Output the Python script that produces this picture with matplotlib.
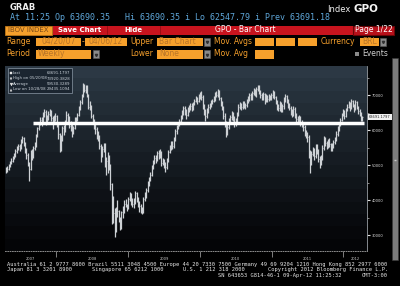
import numpy as np
import pandas as pd
import matplotlib
matplotlib.use('Agg')
import matplotlib.pyplot as plt
from matplotlib.patches import Rectangle

# IBOV weekly bars, 04/20/07 - 04/06/12, in thousands of points
week_start = '2007-04-20'
closes = [
    # 2007
    48.5, 48.9, 49.7, 50.6, 51.2, 51.9, 52.8, 53.9, 54.6, 55.4, 55.0, 56.8, 57.6, 55.9, 54.2, 52.8,
    50.5, 48.9, 53.7, 52.3, 54.8, 55.6, 58.4, 60.5, 61.8, 63.0, 62.1, 64.5, 65.2, 62.8, 63.5, 64.6,
    65.4, 63.3, 62.2, 63.6, 63.9,
    # 2008
    61.4, 58.9, 55.6, 57.8, 60.6, 59.9, 62.6, 64.2, 63.5, 61.2, 61.8, 59.6, 60.5, 63.1, 62.9, 64.4,
    66.3, 68.1, 69.6, 72.4, 71.5, 72.6, 70.1, 66.5, 66.9, 64.0, 62.5, 61.8, 60.4, 58.8, 58.2, 55.5,
    53.1, 54.6, 55.7, 50.5, 51.2, 52.4, 49.8, 44.5, 35.6, 36.4, 31.5, 37.3, 36.9, 34.8, 32.0, 36.6,
    36.7, 39.0, 38.6, 37.6,
    # 2009
    40.2, 41.5, 39.4, 38.8, 39.3, 41.9, 40.1, 39.0, 38.2, 37.3, 36.8, 40.3, 41.4, 42.8, 44.6, 45.9,
    47.2, 49.5, 50.8, 52.1, 51.6, 53.4, 52.7, 53.6, 50.6, 51.2, 50.1, 49.3, 51.5, 53.8, 54.9, 56.2,
    55.3, 57.4, 59.6, 60.9, 61.8, 62.5, 63.7, 64.9, 66.2, 65.1, 64.3, 65.8, 66.4, 67.0, 66.1, 67.5,
    68.4, 69.1, 68.2, 69.6,
    # 2010
    70.2, 69.4, 66.8, 65.4, 64.1, 65.6, 66.6, 67.1, 68.0, 68.4, 69.0, 70.4, 70.1, 70.8, 69.2, 67.8,
    66.5, 64.1, 62.2, 59.8, 61.0, 62.9, 63.6, 64.8, 63.3, 61.8, 62.9, 64.6, 66.7, 67.3, 66.5, 67.8,
    66.9, 67.1, 68.3, 68.9, 70.0, 69.2, 70.6, 71.3, 70.2, 71.8, 72.4, 71.0, 70.1, 69.3, 70.4, 68.3,
    69.6, 68.8, 69.8, 69.3,
    # 2011
    69.9, 70.8, 69.4, 68.1, 66.9, 66.2, 67.5, 65.9, 66.8, 68.7, 69.6, 68.5, 67.0, 66.3, 65.2, 64.5,
    66.0, 64.1, 63.2, 62.7, 63.5, 62.0, 61.8, 60.9, 59.4, 58.6, 57.9, 53.4, 50.9, 53.2, 54.4, 52.6,
    55.3, 54.0, 51.8, 50.6, 52.1, 54.9, 57.5, 56.2, 55.4, 56.8, 55.9, 54.8, 55.7, 56.5, 57.2, 58.9,
    60.4, 61.7, 62.9, 64.3,
    # 2012
    65.4, 63.9, 65.8, 66.7, 67.6, 66.3, 68.2, 67.0, 66.1, 67.9, 66.4, 65.3, 64.8, 62.9, 63.7,
]
highs = [
    49.3, 49.6, 50.3, 51.2, 52.0, 52.6, 53.5, 54.5, 55.3, 56.1, 56.0, 57.3, 58.3, 58.0, 56.6, 54.8,
    53.4, 51.0, 54.2, 54.5, 55.3, 56.5, 58.9, 61.0, 62.4, 63.8, 63.6, 65.1, 66.0, 65.6, 64.2, 65.3,
    66.1, 65.8, 64.0, 64.4, 64.8,
    64.3, 61.8, 59.2, 58.5, 61.2, 61.5, 63.0, 65.3, 64.8, 64.0, 62.5, 62.2, 61.2, 63.6, 63.8, 64.9,
    66.8, 68.6, 70.4, 73.5, 73.1, 72.9, 72.8, 70.3, 68.4, 67.2, 64.5, 63.2, 62.4, 61.0, 59.6, 58.6,
    56.0, 55.3, 56.4, 56.2, 52.3, 53.6, 53.0, 50.4, 45.0, 41.2, 37.8, 37.9, 40.0, 37.2, 35.1, 37.0,
    38.2, 40.1, 40.2, 38.9,
    40.9, 42.4, 42.0, 40.6, 40.5, 42.5, 42.3, 41.0, 39.6, 38.9, 38.0, 40.9, 42.2, 43.5, 45.3, 46.6,
    47.9, 50.1, 51.5, 53.0, 52.8, 54.0, 54.3, 54.5, 54.1, 52.0, 51.8, 50.9, 52.0, 54.4, 55.6, 56.9,
    56.8, 58.0, 60.2, 61.5, 62.4, 63.1, 64.3, 65.6, 66.9, 67.0, 66.0, 66.5, 67.1, 67.7, 67.6, 68.1,
    69.0, 69.7, 69.5, 70.3,
    71.0, 71.2, 69.9, 67.5, 65.9, 66.2, 67.3, 67.8, 68.6, 69.0, 69.7, 71.0, 71.1, 71.6, 71.4, 69.5,
    68.3, 67.0, 64.8, 62.6, 61.7, 63.5, 64.3, 65.5, 65.2, 63.9, 63.5, 65.2, 67.3, 67.9, 67.6, 68.4,
    68.3, 67.7, 68.9, 69.6, 70.6, 70.5, 71.2, 71.9, 71.8, 72.4, 73.0, 72.8, 71.5, 70.6, 71.0, 70.7,
    70.2, 69.9, 70.4, 70.1,
    70.5, 71.4, 71.1, 69.8, 68.6, 67.5, 68.2, 68.0, 67.5, 69.3, 70.2, 70.0, 69.0, 67.6, 66.9, 65.9,
    66.8, 66.5, 64.8, 63.9, 64.2, 64.1, 62.8, 62.4, 61.4, 60.1, 59.3, 58.5, 54.3, 53.9, 55.2, 55.0,
    56.0, 56.1, 54.6, 52.5, 52.9, 55.6, 58.2, 58.1, 56.9, 57.5, 57.6, 56.3, 56.4, 57.2, 58.0, 59.6,
    61.1, 62.4, 63.5, 65.0,
    66.1, 65.8, 66.4, 67.3, 68.3, 68.0, 68.9, 68.7, 67.5, 68.5, 68.2, 66.9, 65.9, 65.1, 64.1,
]
lows = [
    47.6, 47.9, 48.6, 49.3, 50.2, 50.8, 51.6, 52.4, 53.5, 54.2, 54.1, 54.5, 56.2, 55.3, 53.5, 51.6,
    49.7, 45.3, 48.5, 51.4, 51.9, 54.2, 55.2, 58.0, 60.1, 61.4, 61.2, 61.6, 63.8, 61.5, 61.9, 62.8,
    64.0, 62.6, 60.4, 61.8, 62.7,
    60.8, 57.5, 53.6, 53.9, 57.0, 58.6, 59.4, 61.9, 62.3, 60.7, 59.8, 58.0, 58.9, 60.2, 61.8, 62.5,
    63.9, 65.8, 67.5, 69.3, 70.8, 70.6, 69.5, 65.9, 65.8, 63.4, 61.6, 60.3, 58.9, 57.3, 57.0, 54.6,
    50.8, 52.2, 53.8, 49.4, 47.2, 47.6, 48.6, 42.8, 33.2, 33.5, 29.4, 30.8, 35.2, 33.8, 31.4, 31.8,
    34.8, 36.4, 37.9, 37.0,
    37.4, 39.6, 38.7, 37.9, 37.6, 38.8, 39.4, 38.1, 36.5, 36.2, 35.9, 36.3, 39.6, 40.7, 42.3, 44.0,
    45.3, 46.8, 48.9, 50.2, 50.5, 51.2, 51.6, 52.1, 49.8, 49.9, 49.2, 48.1, 48.8, 51.0, 53.3, 54.3,
    54.6, 55.0, 57.0, 59.0, 60.2, 61.1, 61.9, 63.2, 64.3, 64.4, 63.1, 63.9, 65.2, 65.8, 65.4, 65.8,
    67.2, 68.0, 67.5, 68.0,
    68.8, 68.7, 66.0, 64.3, 62.6, 63.5, 65.0, 66.0, 66.5, 67.4, 68.0, 68.4, 69.3, 69.5, 68.6, 67.0,
    65.6, 63.2, 60.8, 58.1, 58.6, 60.4, 62.2, 63.0, 62.7, 60.9, 61.2, 62.3, 64.1, 66.0, 65.7, 66.0,
    66.2, 66.1, 66.5, 67.8, 68.4, 68.6, 68.6, 69.9, 69.6, 69.5, 71.1, 70.3, 69.2, 68.5, 68.7, 67.4,
    67.9, 68.1, 68.2, 68.6,
    68.6, 69.2, 68.9, 67.3, 65.8, 65.3, 65.5, 65.1, 65.2, 66.1, 68.0, 67.8, 66.4, 65.6, 64.3, 63.7,
    63.9, 63.4, 62.4, 61.8, 61.9, 61.2, 60.9, 59.8, 58.4, 57.6, 56.7, 52.0, 47.8, 49.9, 52.5, 51.4,
    51.9, 53.1, 50.9, 49.2, 49.9, 51.5, 54.2, 55.4, 54.6, 54.8, 55.1, 54.0, 54.1, 55.0, 56.0, 56.8,
    58.4, 59.8, 61.1, 62.5,
    64.0, 63.2, 63.6, 65.5, 66.3, 65.5, 66.0, 66.5, 65.2, 65.7, 66.0, 64.7, 64.1, 62.5, 62.5,
]

# drawn horizontal level line
level_value = 62100
level_from, level_to = '2007-09-07', '2012-04-13'

years = [2007, 2008, 2009, 2010, 2011, 2012]
y_ticks = [30000, 40000, 50000, 60000, 70000]
y_minor = [35000, 45000, 55000, 65000, 75000]

legend_rows = [('Last', '63691.1797'), ('High on 05/20/08', '73920.3828'),
               ('Average', '59530.3289'), ('Low on 10/28/08', '29435.1094')]
last_value = 63691.1797

info_line = 'At 11:25 Op 63690.35   Hi 63690.35 i Lo 62547.79 i Prev 63691.18'
contact_1 = ('Australia 61 2 9777 8600 Brazil 5511 3048 4500 Europe 44 20 7330 7500 '
             'Germany 49 69 9204 1210 Hong Kong 852 2977 6000')
contact_2 = [(7, 'Japan 81 3 3201 8900'), (92, 'Singapore 65 6212 1000'),
             (183, 'U.S. 1 212 318 2000'), (268, 'Copyright 2012 Bloomberg Finance L.P.')]
contact_3 = [(218, 'SN 643653 G814-46-1 09-Apr-12 11:25:32'), (362, 'GMT-3:00')]

# ---------------------------------------------------------------------------
closes = np.array(closes) * 1000
highs = np.array(highs) * 1000
lows = np.array(lows) * 1000
start = pd.Timestamp(week_start)
x = np.arange(len(closes))


def week_pos(d):
    return (pd.Timestamp(d) - start).days / 7.0


fig = plt.figure(figsize=(4.0, 2.86), dpi=100, facecolor='black')

# full-figure layer in pixel coordinates for the terminal chrome
hdr = fig.add_axes([0, 0, 1, 1])
hdr.set_xlim(0, 400)
hdr.set_ylim(286, 0)
hdr.axis('off')
hdr.set_zorder(0)

ORANGE = '#f6a02c'
BOXTXT = '#b87428'
RED = '#c8141e'
SANS = 'DejaVu Sans'
MONO = 'DejaVu Sans Mono'


def box(ax_, x0, y0, w, h, fc, ec='none', lw=0.6):
    ax_.add_patch(Rectangle((x0, y0), w, h, facecolor=fc, edgecolor=ec, lw=lw))


def label(ax_, xp, yp, s, color, size=5.5, ha='left', weight='normal', family=SANS):
    ax_.text(xp, yp, s, color=color, fontsize=size, ha=ha, va='center',
             fontweight=weight, family=family)


def dropdown(x0, y0):
    box(hdr, x0, y0, 6, 8, '#8a8a8a', '#5a5a5a', 0.4)
    hdr.plot([x0 + 3], [y0 + 4.5], marker='v', ms=1.6, color='#303030')


label(hdr, 10, 8, 'GRAB', '#f0f0f0', 6, weight='bold')
label(hdr, 10, 17.5, info_line, '#5ea6d8', 6, family=MONO)
label(hdr, 327, 9, 'Index', '#f0f0f0', 6)
label(hdr, 354, 9, 'GPO', '#f4f4f4', 7.5, weight='bold')

# red command row
box(hdr, 5, 25.5, 47, 9, ORANGE, '#c07818')
label(hdr, 28.5, 30, 'IBOV INDEX', '#7a4a18', 5, ha='center')
box(hdr, 53, 25.5, 300, 9, RED)
hdr.plot([107, 107], [26, 34], color='#8a0c10', lw=0.5)
hdr.plot([160, 160], [26, 34], color='#8a0c10', lw=0.5)
label(hdr, 80, 29.8, 'Save Chart', 'white', 5, ha='center', weight='bold')
label(hdr, 133, 29.8, 'Hide', 'white', 5, ha='center', weight='bold')
label(hdr, 245, 30, 'GPO - Bar Chart', 'white', 5.5, ha='center')
box(hdr, 353, 25.5, 41, 9, '#b8101a', '#6a0608', 0.8)
label(hdr, 373.5, 30, 'Page 1/22', 'white', 5.5, ha='center')

# settings rows
r1, r2 = 41.5, 54
label(hdr, 6, r1, 'Range', ORANGE)
box(hdr, 36, 37.5, 45, 8.5, ORANGE)
label(hdr, 58.5, r1, '04/20/07', BOXTXT, ha='center')
label(hdr, 83, r1, '-', ORANGE, ha='center')
box(hdr, 85, 37.5, 42, 8.5, ORANGE)
label(hdr, 106, r1, '04/06/12', BOXTXT, ha='center')
label(hdr, 130, r1, 'Upper', ORANGE)
box(hdr, 157, 37.5, 46, 8.5, ORANGE)
label(hdr, 159, r1, 'Bar Chart', BOXTXT)
dropdown(204, 37.5)
label(hdr, 214, r1, 'Mov. Avgs', ORANGE)
for bx in (255, 276, 298):
    box(hdr, bx, 37.5, 19, 8.5, ORANGE)
label(hdr, 321, r1, 'Currency', ORANGE)
box(hdr, 360, 37.5, 19, 8.5, ORANGE)
label(hdr, 362, r1, 'BRL', BOXTXT)
dropdown(380, 37.5)

label(hdr, 6, r2, 'Period', ORANGE)
box(hdr, 36, 50, 55, 8.5, ORANGE)
label(hdr, 37.5, r2, 'Weekly', BOXTXT)
dropdown(93, 50)
label(hdr, 130, r2, 'Lower', ORANGE)
box(hdr, 157, 50, 46, 8.5, ORANGE)
label(hdr, 159, r2, 'None', BOXTXT)
dropdown(204, 50)
label(hdr, 214, r2, 'Mov. Avg', ORANGE)
box(hdr, 255, 50, 19, 8.5, ORANGE)
box(hdr, 355, 51.5, 4, 4, '#8a8a8a')
label(hdr, 362, r2, 'Events', '#d0d0d0')

# scrollbar at the right
box(hdr, 392, 58, 6, 202, '#7c7c7c', '#3a3a3a', 0.4)
hdr.plot([395], [160], marker='_', ms=2, color='#c8c8c8')

# footer
label(hdr, 7, 264.5, contact_1, '#e8e8e8', 3.9, family=MONO)
for xp, s in contact_2:
    label(hdr, xp, 269.5, s, '#e8e8e8', 3.9, family=MONO)
for xp, s in contact_3:
    label(hdr, xp, 275.5, s, '#e8e8e8', 3.9, family=MONO)

# ---------------------------------------------------------------------------
# price panel
ax = fig.add_axes([5 / 400, (286 - 251) / 286, 362 / 400, 185 / 286])
ax.set_zorder(1)
ax.set_facecolor('black')
x_left, x_right = -0.6, week_pos('2012-04-13') + 2.4
y_bottom, y_top = 25430, 78290
ax.set_xlim(x_left, x_right)
ax.set_ylim(y_bottom, y_top)

top_rgb = np.array([44, 56, 68]) / 255
bot_rgb = np.array([4, 5, 7]) / 255
t = np.linspace(0, 1, 15)[:, None]
grad = (top_rgb * (1 - t) ** 1.1 + bot_rgb * (1 - (1 - t) ** 1.1))[:, None, :]
ax.imshow(grad, extent=[0, 1, 0, 1], transform=ax.transAxes, aspect='auto',
          interpolation='nearest', zorder=0)

ax.vlines(x, lows, highs, color='#cdd1d5', lw=0.9, zorder=2)
ax.hlines(closes, x, x + 0.5, color='#cdd1d5', lw=0.5, zorder=2)

ax.plot([week_pos(level_from), week_pos(level_to)], [level_value, level_value],
        color='white', lw=2.5, solid_capstyle='butt', zorder=3)

# axes styling
for side in ('top', 'left'):
    ax.spines[side].set_visible(False)
ax.spines['right'].set_color('#9aa0a6')
ax.spines['right'].set_linewidth(0.6)
ax.spines['bottom'].set_color('#8a8a8a')
ax.spines['bottom'].set_linewidth(0.7)
ax.spines['bottom'].set_linestyle((0, (0.8, 1.6)))

ax.yaxis.tick_right()
ax.set_yticks(y_ticks)
ax.set_yticklabels([str(v) for v in y_ticks])
ax.set_yticks(y_minor, minor=True)
ax.tick_params(axis='y', which='major', colors='#e0e0e0', labelsize=2.6, length=2.2,
               width=0.8, pad=1.5)
ax.tick_params(axis='y', which='minor', colors='#c0c0c0', length=1.2, width=0.5)

bounds = [week_pos(f'{yr + 1}-01-01') for yr in years[:-1]]
edges = [x_left] + bounds + [x_right]
centers = [(edges[k] + edges[k + 1]) / 2 for k in range(len(years))]
ax.set_xticks(bounds)
ax.set_xticklabels([])
ax.set_xticks(centers, minor=True)
ax.set_xticklabels([str(yr) for yr in years], minor=True)
ax.tick_params(axis='x', which='major', colors='#b0b0b0', length=4.5, width=0.5)
ax.tick_params(axis='x', which='minor', colors='#c8c8c8', length=0, labelsize=2.6, pad=4)

# last price tag on the axis
ax.annotate(f'{last_value:.4f}', xy=(1.0, last_value), xycoords=('axes fraction', 'data'),
            xytext=(1.5, 0), textcoords='offset points', fontsize=2.6, color='#202020',
            va='center', ha='left',
            bbox=dict(boxstyle='square,pad=0.25', fc='#f0f0f0', ec='none'))

# legend panel, top layer in pixel coordinates
top = fig.add_axes([0, 0, 1, 1])
top.set_xlim(0, 400)
top.set_ylim(286, 0)
top.axis('off')
top.set_zorder(2)
box(top, 8, 68, 64, 25, '#1b2530', '#7a8794', 0.6)
rows_y = [73, 78.5, 84, 89.5]
markers = ['s', '$\\top$', 'v', '$\\perp$']
for (name, val), yy, mk in zip(legend_rows, rows_y, markers):
    top.plot([10.5], [yy], marker=mk, ms=2.0, color='#e8e8e8', mew=0.3)
    label(top, 13, yy, name, '#c8d0d8', 2.8)
    label(top, 70, yy, val, '#c8d0d8', 2.8, ha='right')

fig.savefig('out.png', dpi=100, facecolor='black')
